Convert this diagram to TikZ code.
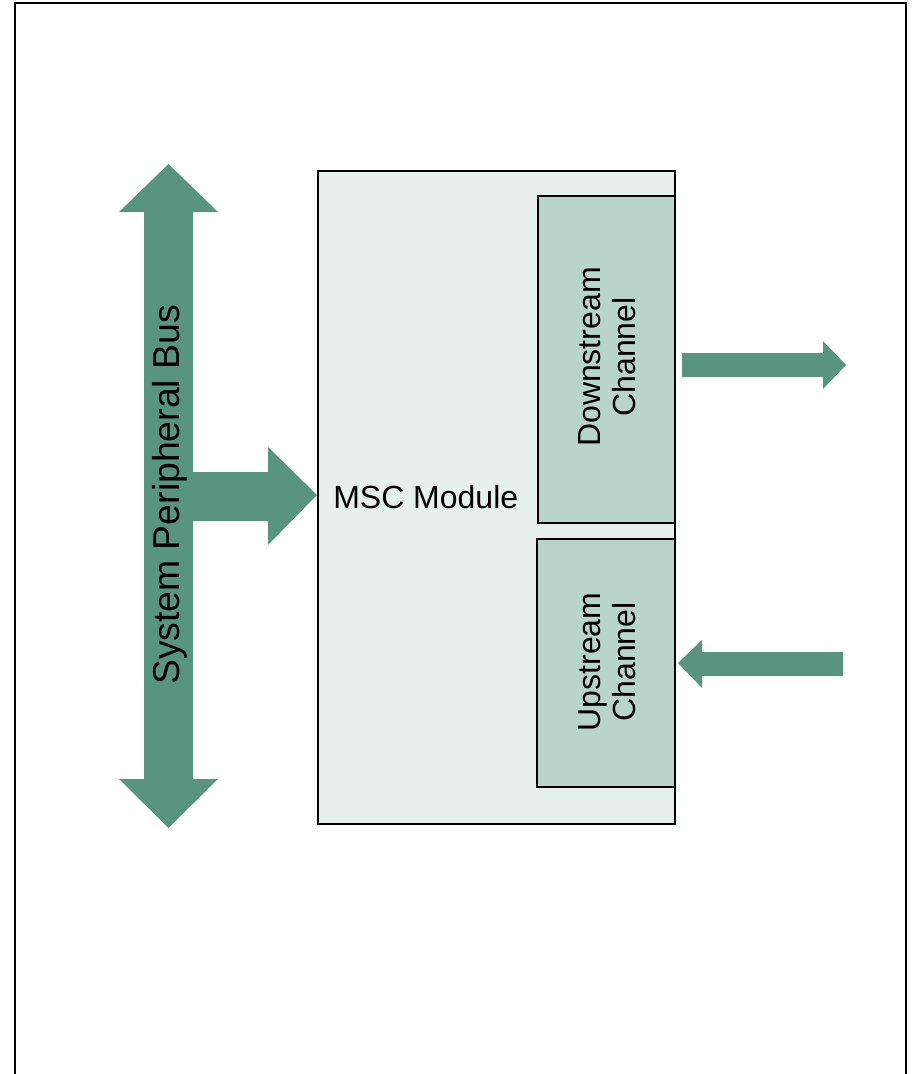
\documentclass[tikz,border=0pt]{standalone}
\usepackage{fontspec}
\setmainfont{Liberation Sans}
\begin{document}
\begin{tikzpicture}[x=0.75pt,y=-0.75pt,
  blockarrow/.style={fill=arrowgreen,draw=none},
  boxline/.style={draw=black,line width=1.4pt},
  bigtext/.style={font=\fontsize{28}{33}\selectfont,inner sep=0pt},
  midtext/.style={font=\fontsize{24}{26.5}\selectfont,inner sep=0pt,align=center}]
\definecolor{arrowgreen}{RGB}{88,148,128}
\definecolor{modfill}{RGB}{230,240,236}
\definecolor{chanfill}{RGB}{184,212,203}
\useasboundingbox (0,0) rectangle (912,1074);
% outer frame (bottom edge lies beyond the page)
\draw[line width=1.6pt] (15,1090) -- (15,3) -- (906,3) -- (906,1090);
% MSC module
\node[boxline,fill=modfill,minimum width=357*0.75pt,minimum height=653*0.75pt,anchor=north west,inner sep=0pt] (msc) at (317,170) {};
\node[boxline,fill=chanfill,minimum width=137*0.75pt,minimum height=327*0.75pt,anchor=north west,inner sep=0pt] (down) at (537,195) {};
\node[boxline,fill=chanfill,minimum width=138*0.75pt,minimum height=248*0.75pt,anchor=north west,inner sep=0pt] (up) at (536,538) {};
\node[midtext,anchor=west] (msclabel) at (333,497) {MSC Module};
\node[midtext,rotate=90] (downlabel) at (607,357) {Downstream\\Channel};
\node[midtext,rotate=90] (uplabel) at (607,662) {Upstream\\Channel};
% system peripheral bus double arrow
\fill[blockarrow] (168.5,164) -- (218,212) -- (193,212) -- (193,779) -- (218,779)
  -- (168.5,828) -- (119,779) -- (144,779) -- (144,212) -- (119,212) -- cycle;
\node[bigtext,rotate=90] (buslabel) at (170,495) {System Peripheral Bus};
% bus to module arrow
\coordinate (bustip) at (317,495);
\fill[blockarrow] (193,472) -- (268,472) -- (268,447) -- (bustip) -- (268,545) -- (268,521) -- (193,521) -- cycle;
% downstream out arrow
\coordinate (outtip) at (846,365);
\fill[blockarrow] (682,353) -- (823,353) -- (823,341) -- (outtip) -- (823,389) -- (823,377) -- (682,377) -- cycle;
% upstream in arrow
\coordinate (intip) at (678,663);
\fill[blockarrow] (843,652) -- (702,652) -- (702,640) -- (intip) -- (702,688) -- (702,676) -- (843,676) -- cycle;
\end{tikzpicture}
\end{document}
